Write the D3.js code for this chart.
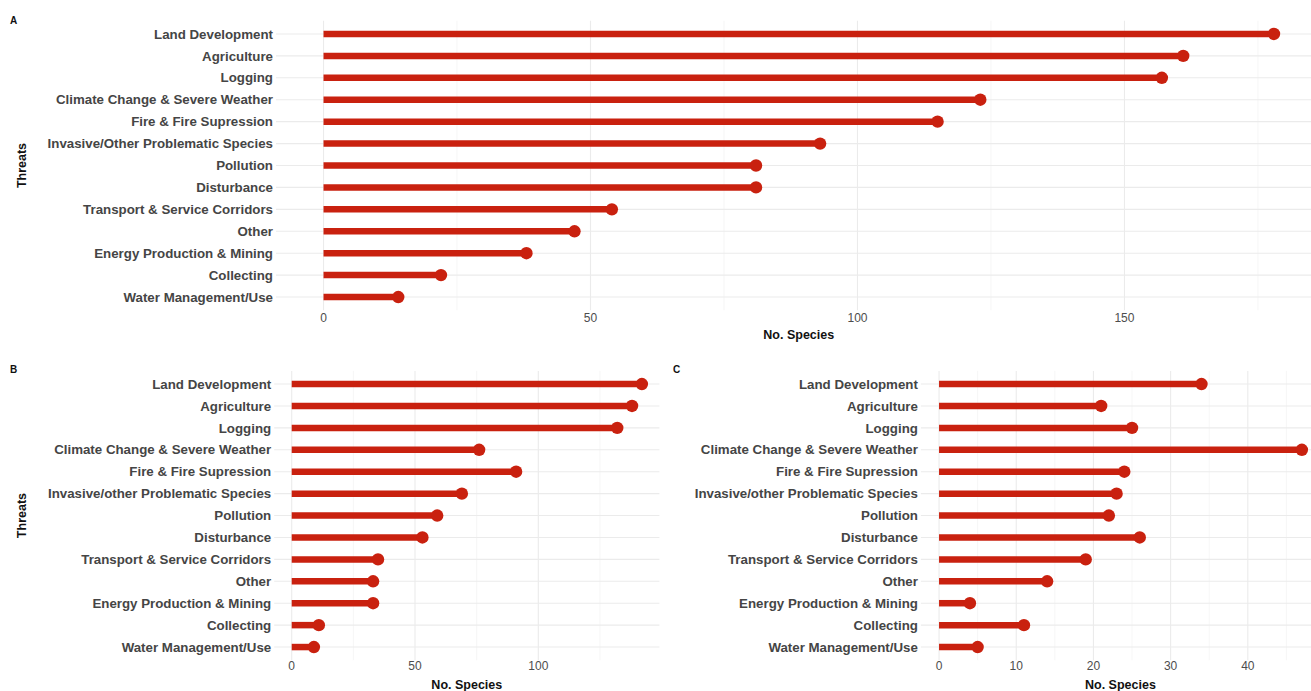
<!DOCTYPE html>
<html>
<head>
<meta charset="utf-8">
<script src="https://cdn.jsdelivr.net/npm/d3@7"></script>
<style>
  html, body { margin: 0; padding: 0; background: #fff; }
  svg { display: block; font-family: "Liberation Sans", Arial, sans-serif; }
</style>
</head>
<body>
<svg id="chart" width="1311" height="691"></svg>
<script>
// ---- data ----
const threatsA = ["Land Development", "Agriculture", "Logging", "Climate Change & Severe Weather",
  "Fire & Fire Supression", "Invasive/Other Problematic Species", "Pollution", "Disturbance",
  "Transport & Service Corridors", "Other", "Energy Production & Mining", "Collecting", "Water Management/Use"];
const threatsBC = ["Land Development", "Agriculture", "Logging", "Climate Change & Severe Weather",
  "Fire & Fire Supression", "Invasive/other Problematic Species", "Pollution", "Disturbance",
  "Transport & Service Corridors", "Other", "Energy Production & Mining", "Collecting", "Water Management/Use"];
const valuesA = [178, 161, 157, 123, 115, 93, 81, 81, 54, 47, 38, 22, 14];
const valuesB = [142, 138, 132, 76, 91, 69, 59, 53, 35, 33, 33, 11, 9];
const valuesC = [34, 21, 25, 47, 24, 23, 22, 26, 19, 14, 4, 11, 5];
const ticksA = [0, 50, 100, 150];
const minorA = [25, 75, 125, 175];
const ticksB = [0, 50, 100];
const minorB = [25, 75, 125];
const ticksC = [0, 10, 20, 30, 40];
const minorC = [5, 15, 25, 35, 45];
const xTitle = "No. Species";
const yTitle = "Threats";

const svg = d3.select("#chart");
const red = "#c9210f";

function panel(opts) {
  const { cats, vals, left, right, top, bottom, ticks, minor, tag, tagX, tagY, showYTitle, tickY, titleY } = opts;
  const maxV = d3.max(vals);
  const pad = maxV * 0.05;
  const x = d3.scaleLinear().domain([-pad, maxV + pad]).range([left, right]);
  const y = d3.scalePoint().domain(cats).range([top, bottom]).padding(0.6);
  const g = svg.append("g");

  g.selectAll(".minor").data(minor).enter().append("line")
    .attr("x1", d => x(d)).attr("x2", d => x(d))
    .attr("y1", top).attr("y2", bottom)
    .attr("stroke", "#f0f0f0").attr("stroke-width", 0.6);
  g.selectAll(".major").data(ticks).enter().append("line")
    .attr("x1", d => x(d)).attr("x2", d => x(d))
    .attr("y1", top).attr("y2", bottom)
    .attr("stroke", "#ebebeb").attr("stroke-width", 1.1);
  g.selectAll(".hgrid").data(cats).enter().append("line")
    .attr("x1", left).attr("x2", right)
    .attr("y1", d => y(d)).attr("y2", d => y(d))
    .attr("stroke", "#ebebeb").attr("stroke-width", 1.1);

  g.selectAll(".seg").data(cats).enter().append("line")
    .attr("x1", x(0)).attr("x2", (d, i) => x(vals[i]))
    .attr("y1", d => y(d)).attr("y2", d => y(d))
    .attr("stroke", red).attr("stroke-width", 6.5);
  g.selectAll(".pt").data(cats).enter().append("circle")
    .attr("cx", (d, i) => x(vals[i])).attr("cy", d => y(d))
    .attr("r", 6.2).attr("fill", red);

  g.selectAll(".ylab").data(cats).enter().append("text")
    .attr("x", left - 3).attr("y", d => y(d)).attr("dy", "0.35em")
    .attr("text-anchor", "end").attr("font-size", 13.3).attr("font-weight", "bold")
    .attr("fill", "#454545").text(d => d);

  g.selectAll(".xlab").data(ticks).enter().append("text")
    .attr("x", d => x(d)).attr("y", tickY)
    .attr("text-anchor", "middle").attr("font-size", 12)
    .attr("fill", "#4d4d4d").text(d => d);

  g.append("text").attr("x", (left + right) / 2).attr("y", titleY)
    .attr("text-anchor", "middle").attr("font-size", 12.5).attr("font-weight", "bold")
    .attr("fill", "#111").text(xTitle);

  if (showYTitle) {
    g.append("text")
      .attr("transform", `translate(26,${(top + bottom) / 2}) rotate(-90)`)
      .attr("text-anchor", "middle").attr("font-size", 12.5).attr("font-weight", "bold")
      .attr("fill", "#111").text(yTitle);
  }
  g.append("text").attr("x", tagX).attr("y", tagY)
    .attr("font-size", 10).attr("font-weight", "bold").attr("fill", "#111").text(tag);
}

panel({ cats: threatsA, vals: valuesA, left: 276, right: 1321.5, top: 20.8, bottom: 310.2,
  ticks: ticksA, minor: minorA, tag: "A", tagX: 10, tagY: 24, showYTitle: true, tickY: 322, titleY: 339 });
panel({ cats: threatsBC, vals: valuesB, left: 274.2, right: 659.4, top: 370.9, bottom: 660.2,
  ticks: ticksB, minor: minorB, tag: "B", tagX: 10, tagY: 373, showYTitle: true, tickY: 670, titleY: 689 });
panel({ cats: threatsBC, vals: valuesC, left: 920.9, right: 1320, top: 370.9, bottom: 660.2,
  ticks: ticksC, minor: minorC, tag: "C", tagX: 673, tagY: 373, showYTitle: false, tickY: 670, titleY: 689 });
</script>
</body>
</html>
